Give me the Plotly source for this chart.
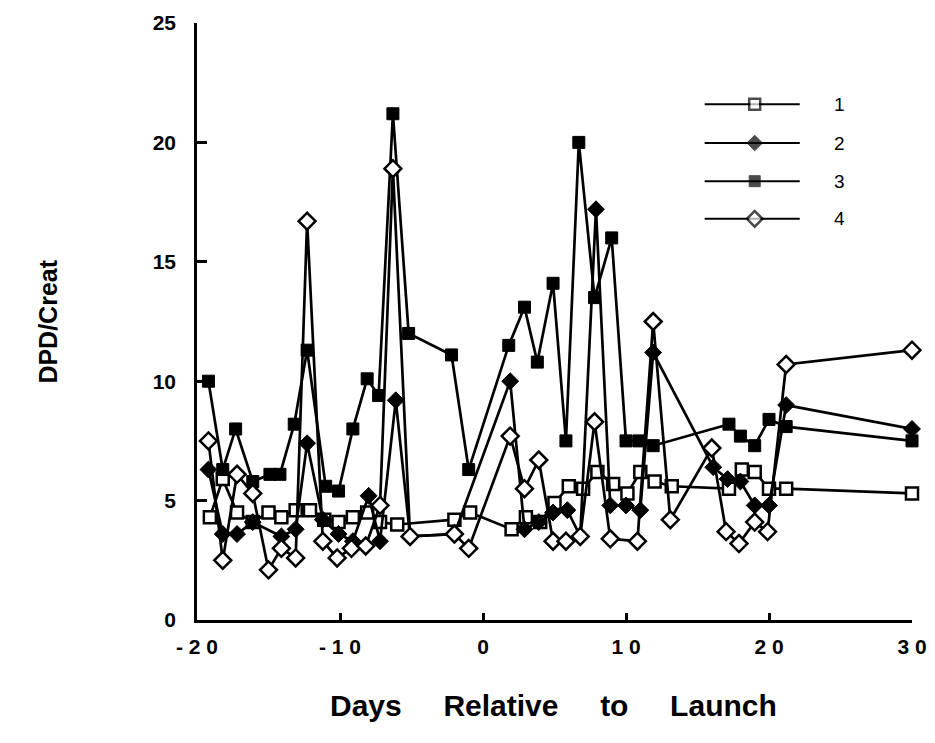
import plotly.graph_objects as go

# ---- data ----
x1 = [-19.1, -18.2, -17.2, -16.1, -15.0, -14.1, -13.1, -12.1, -11.1, -10.1, -9.1, -8.1, -7.2, -6.0,
      -2.0, -0.9, 2.0, 3.0, 4.0, 5.0, 6.0, 7.0, 8.0, 9.1, 10.1, 11.0, 12.0, 13.2, 17.2, 18.1, 19.0,
      20.0, 21.2, 30.0]
y1 = [4.3, 5.9, 4.5, 4.1, 4.5, 4.3, 4.6, 4.6, 4.2, 4.1, 4.3, 4.5, 4.1, 4.0,
      4.2, 4.5, 3.8, 4.3, 4.1, 4.9, 5.6, 5.5, 6.2, 5.7, 5.3, 6.2, 5.8, 5.6, 5.5, 6.3, 6.2,
      5.5, 5.5, 5.3]

x2 = [-19.2, -18.2, -17.2, -16.1, -14.1, -13.1, -12.3, -11.2, -10.1, -9.1, -8.0, -7.2, -6.1, -5.1,
      -2.0, 1.9, 2.9, 3.9, 4.9, 5.9, 6.8, 7.9, 8.9, 10.0, 11.0, 11.9, 16.1, 17.1, 18.0, 19.0,
      20.0, 21.2, 30.0]
y2 = [6.3, 3.6, 3.6, 4.1, 3.5, 3.8, 7.4, 4.2, 3.6, 3.3, 5.2, 3.3, 9.2, 3.5,
      3.6, 10.0, 3.8, 4.1, 4.5, 4.6, 3.5, 17.2, 4.8, 4.8, 4.6, 11.2, 6.4, 5.9, 5.8, 4.8,
      4.8, 9.0, 8.0]

x3 = [-19.2, -18.2, -17.3, -16.1, -14.9, -14.2, -13.2, -12.3, -11.0, -10.1, -9.1, -8.1, -7.3, -6.3,
      -5.2, -2.2, -1.0, 1.8, 2.9, 3.8, 4.9, 5.8, 6.7, 7.8, 9.0, 10.0, 10.9, 11.9, 17.2, 18.0,
      19.0, 20.0, 21.2, 30.0]
y3 = [10.0, 6.3, 8.0, 5.8, 6.1, 6.1, 8.2, 11.3, 5.6, 5.4, 8.0, 10.1, 9.4, 21.2,
      12.0, 11.1, 6.3, 11.5, 13.1, 10.8, 14.1, 7.5, 20.0, 13.5, 16.0, 7.5, 7.5, 7.3, 8.2, 7.7,
      7.3, 8.4, 8.1, 7.5]

x4 = [-19.2, -18.2, -17.2, -16.1, -15.0, -14.1, -13.1, -12.3, -11.2, -10.2, -9.2, -8.2, -7.2, -6.3,
      -5.1, -2.0, -1.0, 1.9, 2.9, 3.9, 4.9, 5.8, 6.8, 7.8, 8.9, 10.8, 11.9, 13.1, 16.0, 17.0,
      17.9, 19.0, 19.9, 21.2, 30.0]
y4 = [7.5, 2.5, 6.1, 5.3, 2.1, 3.0, 2.6, 16.7, 3.3, 2.6, 3.0, 3.1, 4.8, 18.9,
      3.5, 3.6, 3.0, 7.7, 5.5, 6.7, 3.3, 3.3, 3.5, 8.3, 3.4, 3.3, 12.5, 4.2, 7.2, 3.7,
      3.2, 4.1, 3.7, 10.7, 11.3]

series_names = ["1", "2", "3", "4"]
x_tickvals = [-20, -10, 0, 10, 20, 30]
x_ticktext = ["- 2 0", "- 1 0", "0", "1 0", "2 0", "3 0"]
y_tickvals = [0, 5, 10, 15, 20, 25]
y_ticktext = ["0", "5", "10", "15", "20", "25"]

# ---- styles ----
FONT = "Liberation Sans, Arial, sans-serif"
styles = [
    dict(symbol="square", size=12, color="white", line=dict(color="black", width=2.5)),
    dict(symbol="diamond", size=13, color="black", line=dict(color="black", width=1)),
    dict(symbol="square", size=12, color="black", line=dict(color="black", width=1)),
    dict(symbol="diamond", size=13, color="white", line=dict(color="black", width=2.5)),
]

fig = go.Figure()
for xs, ys, st, nm in zip([x1, x2, x3, x4], [y1, y2, y3, y4], styles, series_names):
    fig.add_trace(go.Scatter(
        x=xs, y=ys, mode="lines+markers", name=nm,
        line=dict(color="black", width=2.7),
        marker=st, cliponaxis=False, showlegend=False,
    ))

# manual legend on an overlay axis (0..1 in plot area)
leg_y = [0.864, 0.799, 0.735, 0.672]
for st, nm, ly in zip(styles, series_names, leg_y):
    ms = dict(st)
    ms["size"] = [0, st["size"] - 1, 0]
    fig.add_trace(go.Scatter(
        x=[0.710, 0.780, 0.843], y=[ly, ly, ly], xaxis="x2", yaxis="y2",
        mode="lines+markers", line=dict(color="black", width=2),
        marker=ms, showlegend=False, hoverinfo="skip", cliponaxis=False,
    ))
    fig.add_annotation(x=0.899, y=ly, xref="x2", yref="y2", text=nm, showarrow=False,
                       font=dict(family=FONT, size=19, color="black"), xanchor="center")

axis_common = dict(showgrid=False, zeroline=False, showline=True, linecolor="black",
                   linewidth=2.5, ticks="inside", tickcolor="black", tickwidth=2.5,
                   automargin=False,
                   tickfont=dict(family=FONT, size=21, color="black", weight="bold"))

fig.update_layout(
    width=927, height=735,
    margin=dict(l=189, r=23, t=15, b=123),
    paper_bgcolor="white", plot_bgcolor="white",
    showlegend=False,
    xaxis=dict(range=[-20, 30], tickvals=x_tickvals, ticktext=x_ticktext, ticklen=7,
               ticklabelstandoff=6, **axis_common),
    yaxis=dict(range=[0, 25], tickvals=y_tickvals, ticktext=y_ticktext, ticklen=10,
               ticklabelstandoff=14, **axis_common),
    xaxis2=dict(range=[0, 1], overlaying="x", visible=False, fixedrange=True),
    yaxis2=dict(range=[0, 1], overlaying="y", visible=False, fixedrange=True),
)

fig.add_annotation(x=-0.232, y=0.5, xref="paper", yref="paper", text="DPD/Creat",
                   textangle=-90, showarrow=False,
                   font=dict(family=FONT, size=25, color="black", weight="bold"))
gap = "\u00a0" * 5
fig.add_annotation(x=0.498, y=-0.143, xref="paper", yref="paper",
                   text=gap.join(["Days", "Relative", "to", "Launch"]),
                   showarrow=False, yanchor="middle",
                   font=dict(family=FONT, size=30, color="black", weight="bold"))

fig.write_html("out.html")
